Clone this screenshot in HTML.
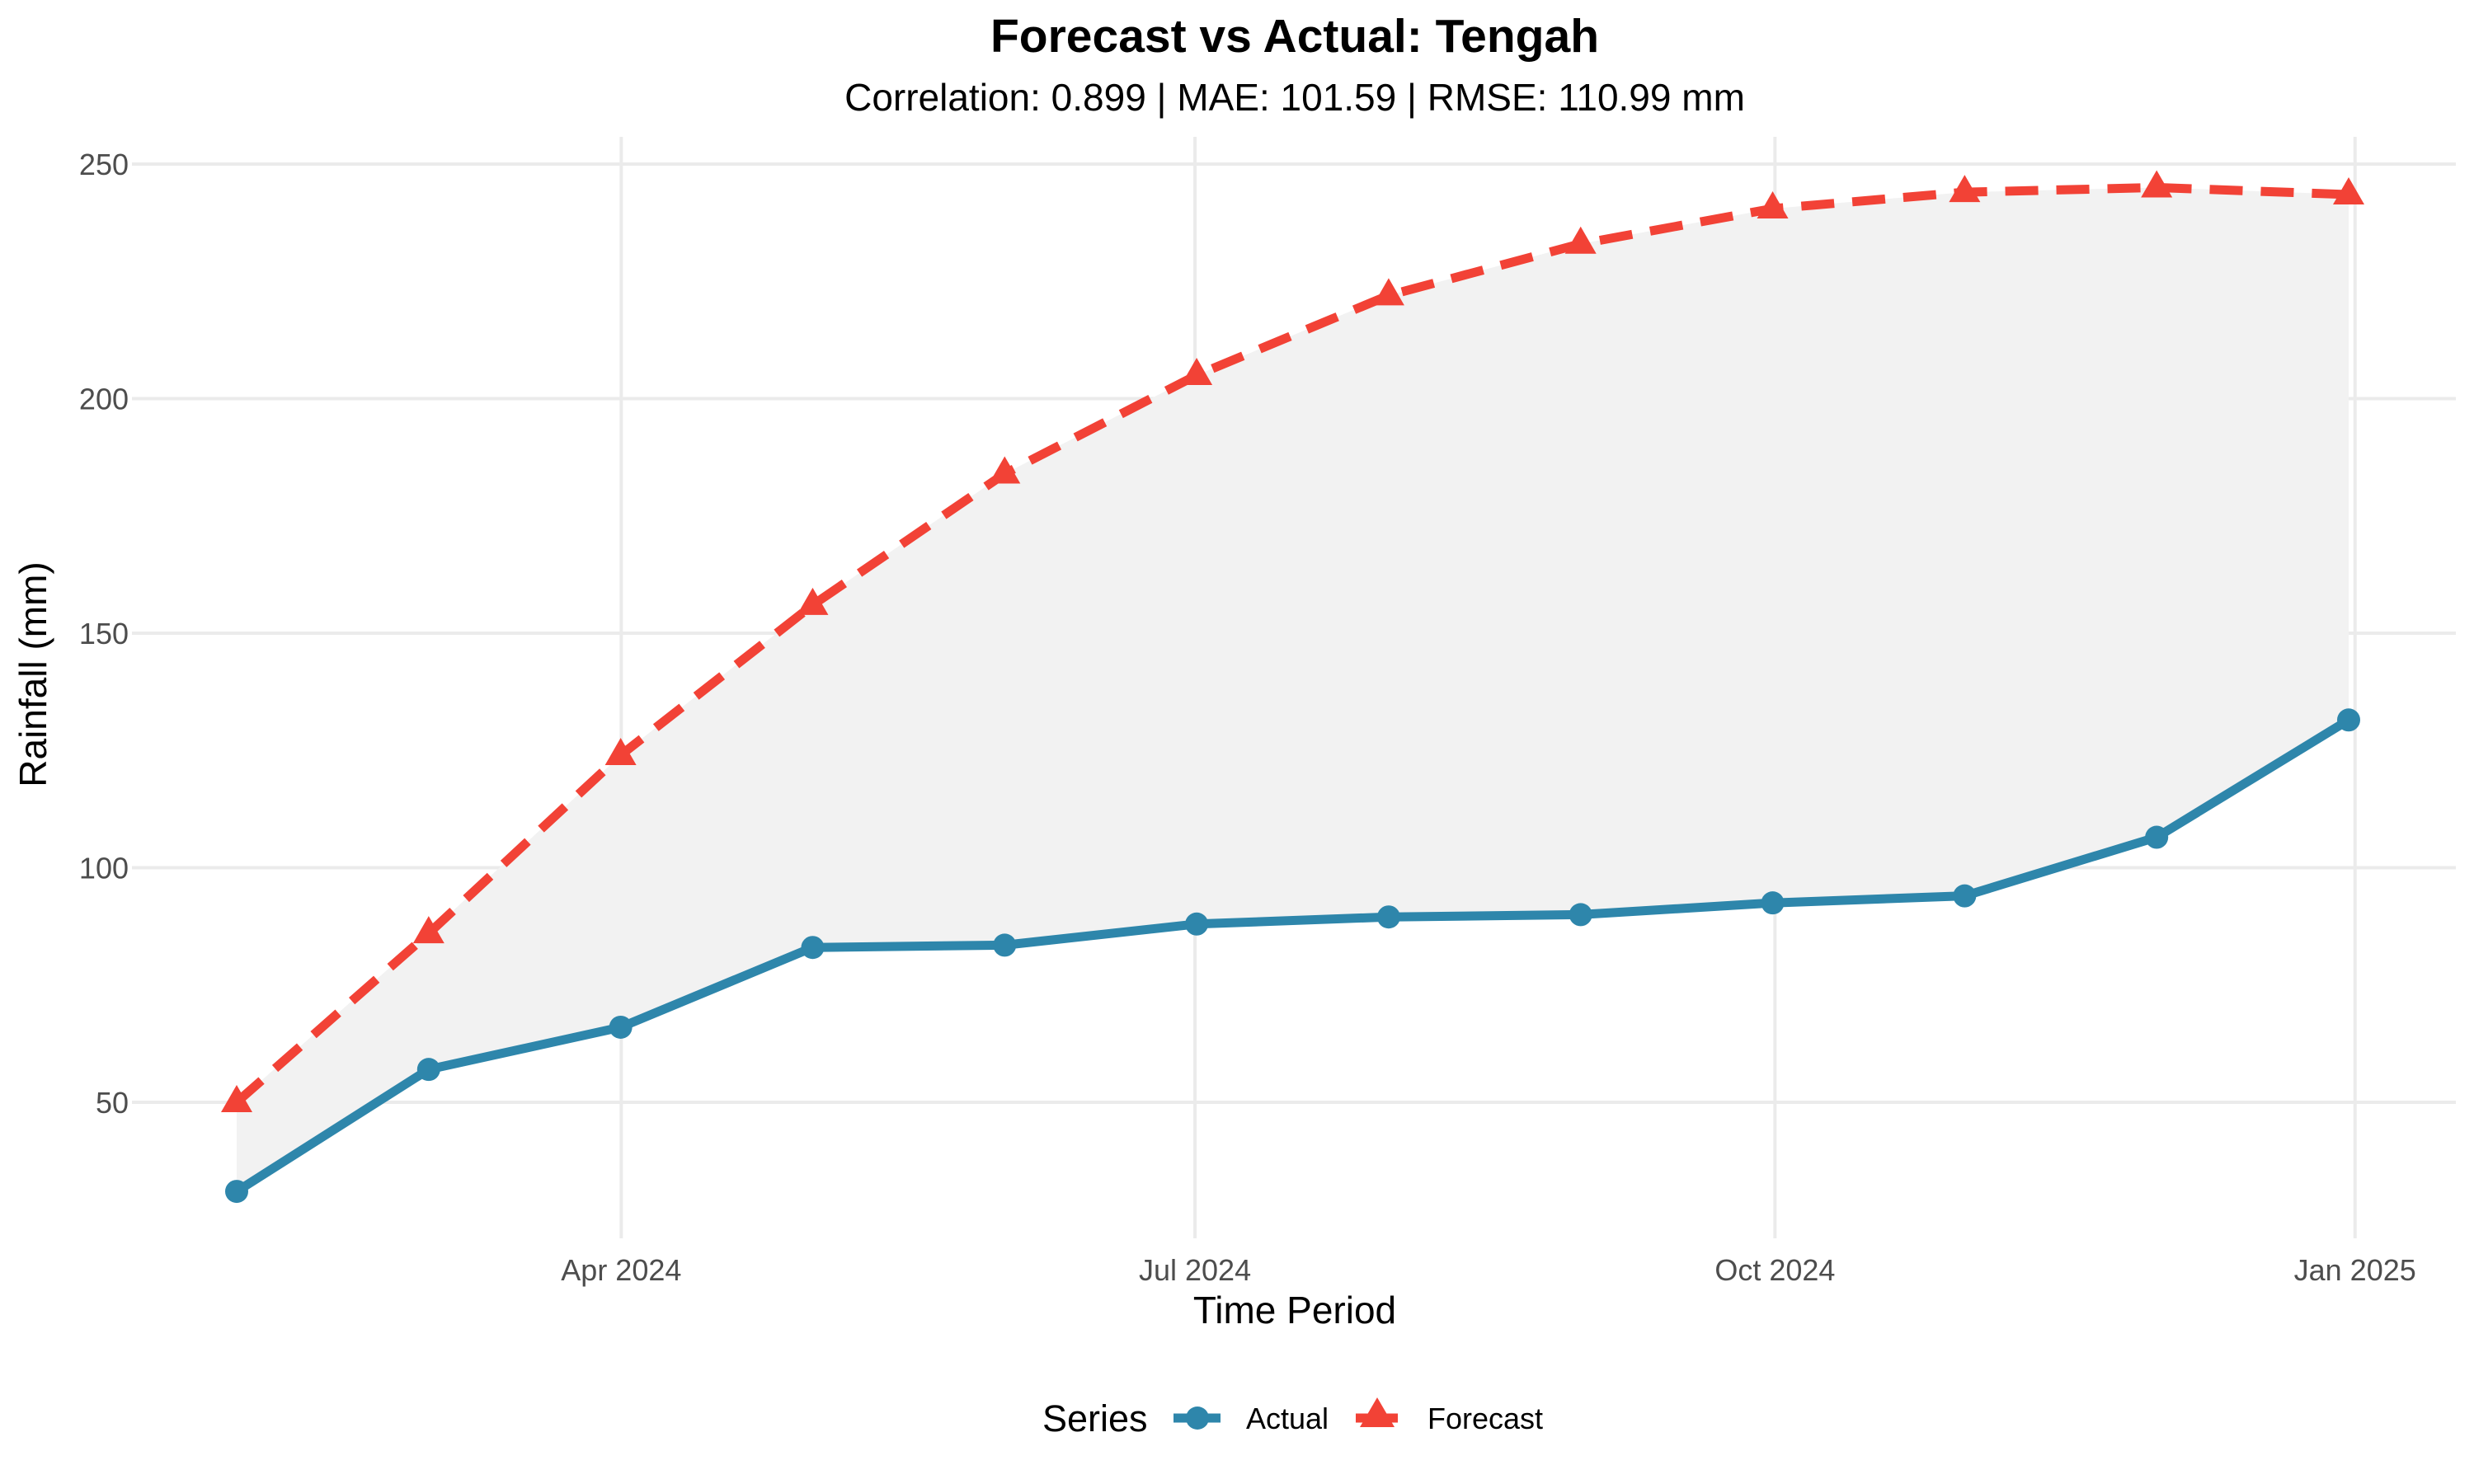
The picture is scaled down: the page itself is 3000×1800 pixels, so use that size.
<!DOCTYPE html>
<html><head><meta charset="utf-8"><style>
html,body{margin:0;padding:0;background:#fff}
svg{display:block;font-family:"Liberation Sans",Arial,sans-serif}
</style></head><body>
<svg id="chart" width="3000" height="1800" viewBox="0 0 3000 1800" xmlns="http://www.w3.org/2000/svg">
<rect width="3000" height="1800" fill="#fff"/>
<g id="grid"></g>
<g id="ribbon"></g>
<g id="series"></g>
<g id="axes"></g>
<text x="1570" y="63" text-anchor="middle" font-size="57" font-weight="bold" fill="#000">Forecast vs Actual: Tengah</text>
<text x="1570" y="134" text-anchor="middle" font-size="46" fill="#000">Correlation: 0.899 | MAE: 101.59 | RMSE: 110.99 mm</text>
<text x="1570" y="1605" text-anchor="middle" font-size="46" fill="#000">Time Period</text>
<text transform="translate(56,818) rotate(-90)" text-anchor="middle" font-size="46" fill="#000">Rainfall (mm)</text>
<g>
<text x="1264" y="1736" font-size="45" fill="#000">Series</text>
<g>
<line x1="1423" y1="1720" x2="1480" y2="1720" stroke="#2E86AB" stroke-width="11"/>
<circle cx="1452" cy="1720" r="14" fill="#2E86AB"/>
<text x="1511" y="1733" font-size="36" fill="#000">Actual</text>
</g>
<g>
<line x1="1644" y1="1720" x2="1695" y2="1720" stroke="#F24236" stroke-width="11"/>
<polygon points="1670,1695 1691,1731 1649,1731" fill="#F24236"/>
<text x="1731" y="1733" font-size="36" fill="#000">Forecast</text>
</g>
</g>
</svg>
<script>
const dates = ["2024-01","2024-02","2024-03","2024-04","2024-05","2024-06","2024-07","2024-08","2024-09","2024-10","2024-11","2024-12"];
const actual = [31, 57, 66, 83, 83.5, 88, 89.5, 90, 92.5, 94, 106.5, 131.5];
const forecast = [50, 86, 124, 156, 184, 205, 222, 233, 240.5, 244, 245, 243.5];
const yTicks = [50, 100, 150, 200, 250];
const xTickDates = ["2024-04-01","2024-07-01","2024-10-01","2025-01-01"];
const xTickLabels = ["Apr 2024","Jul 2024","Oct 2024","Jan 2025"];

const NS = "http://www.w3.org/2000/svg";
const DAY = 86400000;
const t0 = Date.parse("2024-01-31");
function xd(d){ return 287 + (Date.parse(d) - t0) / DAY * 7.645; }
function xi(i){ return 287 + i * (2561 / (dates.length - 1)); }
function ys(v){ return 1337 - (v - 50) * 5.69; }
function mk(tag, attrs, parent){
  const e = document.createElementNS(NS, tag);
  for (const k in attrs) e.setAttribute(k, attrs[k]);
  parent.appendChild(e);
  return e;
}
const grid = document.getElementById('grid');
const axes = document.getElementById('axes');
const ribbon = document.getElementById('ribbon');
const series = document.getElementById('series');

yTicks.forEach(v => {
  const l = mk('line', {x1:160, x2:2978, y1:ys(v), y2:ys(v), stroke:'#ebebeb', 'stroke-width':4}, grid);
  
  
  const t = mk('text', {x:156, y:ys(v)+13, 'text-anchor':'end', 'font-size':36, fill:'#4d4d4d'}, axes);
  t.textContent = v;
  
  
});
xTickDates.forEach((d, i) => {
  const l = mk('line', {x1:xd(d), x2:xd(d), y1:166, y2:1502, stroke:'#ebebeb', 'stroke-width':4}, grid);
  
  
  const t = mk('text', {x:xd(d), y:1553, 'text-anchor':'middle', 'font-size':36, fill:'#4d4d4d'}, axes);
  t.textContent = xTickLabels[i];
  
  
});

let pts = dates.map((d,i)=>xi(i)+','+ys(forecast[i]));
for (let i = dates.length-1; i >= 0; i--) pts.push(xi(i)+','+ys(actual[i]));
const rib = mk('polygon', {points: pts.join(' '), fill:'#f2f2f2'}, ribbon);



const fl = mk('polyline', {points: dates.map((d,i)=>xi(i)+','+ys(forecast[i])).join(' '), fill:'none', stroke:'#F24236', 'stroke-width':11, 'stroke-dasharray':'40 22'}, series);


const al = mk('polyline', {points: dates.map((d,i)=>xi(i)+','+ys(actual[i])).join(' '), fill:'none', stroke:'#2E86AB', 'stroke-width':11, 'stroke-linejoin':'round'}, series);



dates.forEach((d,i) => {
  const x = xi(i), yf = ys(forecast[i]), ya = ys(actual[i]);
  const tri = mk('polygon', {points: `${x},${yf-21} ${x+19},${yf+12} ${x-19},${yf+12}`, fill:'#F24236'}, series);
  
  
  const c = mk('circle', {cx:x, cy:ya, r:14, fill:'#2E86AB'}, series);
  
  
});
</script>
</body></html>
